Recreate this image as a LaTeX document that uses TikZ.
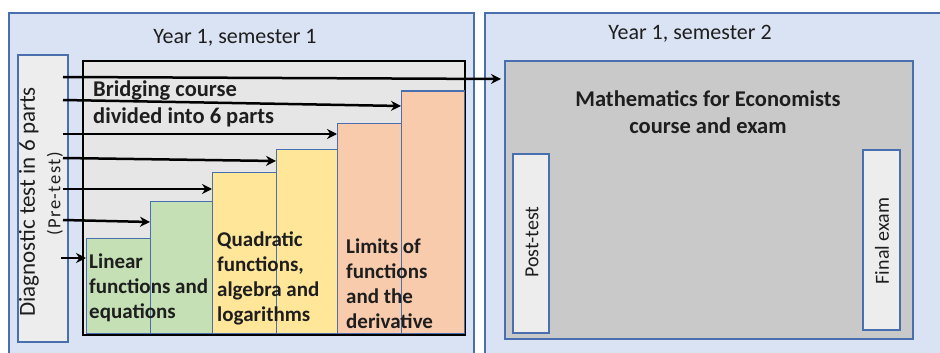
\documentclass[tikz,border=0pt]{standalone}
\usepackage{fontspec}
\setmainfont{Carlito}
\usetikzlibrary{arrows.meta,positioning}
\definecolor{panelblue}{HTML}{DAE3F3}
\definecolor{edgeblue}{HTML}{4A6FAE}
\definecolor{bridgegray}{HTML}{E7E6E6}
\definecolor{coursegray}{HTML}{C9C9C9}
\definecolor{testgray}{HTML}{EDEDED}
\definecolor{stepgreen}{HTML}{C5E0B4}
\definecolor{stepyellow}{HTML}{FFE699}
\definecolor{steporange}{HTML}{F8CBAD}
\definecolor{inkgray}{HTML}{1E1E1E}
\tikzset{
  box/.style={draw=edgeblue, line width=1.2pt, anchor=north west,
    inner sep=0pt, outer sep=0pt},
  panel/.style={box, fill=panelblue},
  part/.style={box, line width=1pt},
  bridgebox/.style={box, draw=black, line width=1.5pt, fill=bridgegray},
  title/.style={text=inkgray, inner sep=0pt, font=\fontsize{22}{26}\selectfont},
  bigbold/.style={text=inkgray, inner sep=0pt, align=left,
    font=\bfseries\fontsize{22.5}{27}\selectfont},
  steplabel/.style={text=inkgray, inner sep=0pt, anchor=west, align=left,
    font=\bfseries\fontsize{21}{25}\selectfont},
  sidelabel/.style={text=inkgray, inner sep=0pt, rotate=90,
    font=\fontsize{20}{24}\selectfont},
  conn/.style={-{Stealth[length=10pt,width=10pt]}, line width=2.5pt}
}

\begin{document}
\begin{tikzpicture}[x=1pt,y=-1pt]
\clip (0,0) rectangle (940,353);

% the two semesters
\node[panel, minimum width=465, minimum height=360] (sem1) at (9,13) {};
\node[panel, minimum width=470, minimum height=360] (sem2) at (485,13) {};
\node[title] (title1) at (235,38) {Year 1, semester 1};
\node[title] (title2) at (690,34) {Year 1, semester 2};

% bridging course
\node[bridgebox, minimum width=382, minimum height=274] (bridge) at (83,61) {};
\node[bigbold, anchor=west] (bridgetext) at (93,104) {Bridging course\\divided into 6 parts};

\node[part, fill=stepgreen, minimum width=64, minimum height=95] (part1) at (86,238) {};
\node[part, fill=stepgreen, minimum width=62, minimum height=132] (part2) at (150,201) {};
\node[part, fill=stepyellow, minimum width=64, minimum height=161] (part3) at (212,172) {};
\node[part, fill=stepyellow, minimum width=61, minimum height=184] (part4) at (276,149) {};
\node[part, fill=steporange, minimum width=64, minimum height=210] (part5) at (337,123) {};
\node[part, fill=steporange, minimum width=63, minimum height=242] (part6) at (401,91) {};

\node[steplabel] (lintext) at (89,288) {Linear\\functions and\\equations};
\node[steplabel] (quadtext) at (217,278) {Quadratic\\functions,\\algebra and\\logarithms};
\node[steplabel] (limtext) at (346,284) {Limits of\\functions\\and the\\derivative};

% diagnostic test
\node[box, fill=testgray, minimum width=50, minimum height=287] (diag) at (18,55) {};
\node[sidelabel, font=\fontsize{23}{27}\selectfont] (diagtext) at (29,202) {Diagnostic test in 6 parts};
\node[sidelabel, font=\addfontfeature{LetterSpace=8}\fontsize{18.5}{22}\selectfont] (pretext) at (55,194) {(Pre-test)};

% second semester course
\node[box, fill=coursegray, minimum width=408, minimum height=278] (course) at (505,61) {};
\node[bigbold, align=center] (coursetext) at (708,112) {Mathematics for Economists\\course and exam};
\node[box, fill=testgray, minimum width=36, minimum height=179] (posttest) at (513,154) {};
\node[sidelabel] (posttext) at (532,242) {Post-test};
\node[box, fill=testgray, minimum width=37, minimum height=180] (finalexam) at (863,150) {};
\node[sidelabel] (finaltext) at (882,241) {Final exam};

% arrows out of the pre-test
\coordinate (s1) at (61,258);
\coordinate (s2) at (63,220);
\coordinate (s3) at (63,189);
\coordinate (s4) at (63,158);
\coordinate (s5) at (63,134);
\coordinate (s6) at (63,100);
\coordinate (s7) at (63,77);
\draw[conn] (s1) -- ([yshift=-20pt]part1.north west);
\draw[conn] (s2) -- ([yshift=-21pt]part2.north west);
\draw[conn] (s3) -- ([yshift=-17pt]part3.north west);
\draw[conn] (s4) -- ([yshift=-12pt]part4.north west);
\draw[conn] (s5) -- ([yshift=-11pt]part5.north west);
\draw[conn] (s6) -- ([yshift=-15pt]part6.north west);
\draw[conn] (s7) -- ([xshift=-4pt,yshift=-18pt]course.north west);
\end{tikzpicture}
\end{document}
